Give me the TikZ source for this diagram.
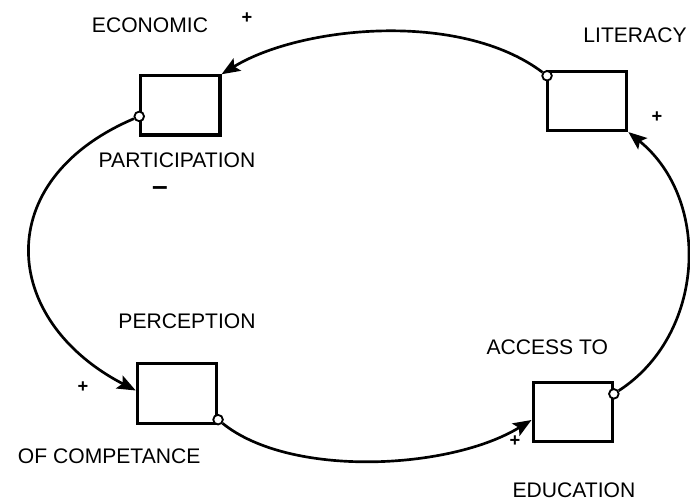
\documentclass[tikz,border=0pt]{standalone}
\usepackage{fontspec}
\setmainfont{Liberation Sans}
\usetikzlibrary{positioning,calc,arrows.meta}

\begin{document}
\begin{tikzpicture}[
      x = 0.025cm, y = -0.025cm,
      box/.style={rectangle, draw, line width = 2.2pt, minimum width = 1.98cm, minimum height = 1.48cm, inner sep = 0pt},
      lbl/.style={inner sep = 0pt, font = \fontsize{15}{18}\selectfont},
      sgn/.style={inner sep = 0pt, font = \fontsize{13}{15}\selectfont\bfseries},
      link/.style={line width = 1.9pt, -{Stealth[length = 4.6mm, width = 3.6mm, inset = 0.9mm]}},
      tap/.style={circle, draw, fill = white, line width = 1.3pt, minimum size = 2.4mm, inner sep = 0pt},
    ]
      \useasboundingbox (0,0) rectangle (690,504);

      % stocks
      \node[box] (econ) at (180.4,105.4) {};
      \node[box] (lit)  at (587.2,100.9) {};
      \node[box] (perc) at (176.9,393.5) {};
      \node[box] (acc)  at (572.7,412)   {};

      % outflow taps
      \node[tap] (econout) at ($ (econ.west) + (0,11) $) {};
      \node[tap] (litout)  at ($ (lit.north west) + (1,6) $) {};
      \node[tap] (percout) at ($ (perc.south east) + (0,-5) $) {};
      \node[tap] (accout)  at ($ (acc.north east) + (0,13) $) {};

      % inflow points
      \coordinate (econin) at (econ.north east);
      \coordinate (litin)  at (lit.south east);
      \coordinate (percin) at ($ (perc.west) + (0,-3) $);
      \coordinate (accin)  at ($ (acc.west) + (0,8) $);

      % loop
      \draw[link] (litout)  .. controls (460,10)  and (300,26)  .. (econin);
      \draw[link] (econout) .. controls (-10,180) and (0,320)   .. (percin);
      \draw[link] (percout) .. controls (290,478) and (450,470) .. (accin);
      \draw[link] (accout)  .. controls (705,335) and (712,200) .. (litin);

      % labels
      \node[lbl] (econlbl)  at (150,25.5)  {ECONOMIC};
      \node[lbl] (partlbl)  at (177,160)   {PARTICIPATION};
      \node[lbl] (litlbl)   at (635,35.5)  {LITERACY};
      \node[lbl] (perclbl)  at (187,320.8) {PERCEPTION};
      \node[lbl] (complbl)  at (109.2,456.5) {OF COMPETANCE};
      \node[lbl] (acclbl)   at (547.3,347.5) {ACCESS TO};
      \node[lbl] (edulbl)   at (574,490)   {EDUCATION};

      % polarities
      \node[sgn] (econsgn) at (247,18)    {+};
      \node[sgn] (litsgn)  at (657,117.5) {+};
      \node[sgn] (percsgn) at (83,387)    {+};
      \node[sgn] (accsgn)  at (515,441)   {+};
      \node[sgn, font = \fontsize{20}{24}\selectfont\bfseries] (partsgn) at (160,191) {\textendash};
    \end{tikzpicture}
\end{document}
